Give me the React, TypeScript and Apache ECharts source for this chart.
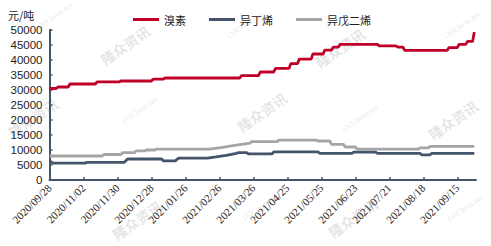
import React, { useEffect, useRef } from "react";
import * as echarts from "echarts";

const seriesNames = ["溴素", "异丁烯", "异戊二烯"];
const seriesColors = ["#C00028", "#44546A", "#A5A5A5"];
const tickLabels = [
  "2020/09/28", "2020/11/02", "2020/11/30", "2020/12/28", "2021/01/26",
  "2021/02/26", "2021/03/26", "2021/04/25", "2021/05/25", "2021/06/23",
  "2021/07/21", "2021/08/18", "2021/09/15",
];
const tickStep = 20;
const lastIndex = 251;
const yTicks = { min: 0, max: 50000, interval: 5000 };

// [trading-day index, price]
const bromine = [
  [0, 30500], [4, 30500], [5, 31000], [11, 31000], [12, 32000], [27, 32000],
  [28, 32700], [41, 32700], [42, 33000], [60, 33000], [61, 33600], [67, 33600],
  [68, 34000], [112, 34000], [113, 34800], [123, 34800], [124, 36000], [132, 36000],
  [133, 37200], [141, 37200], [142, 38800], [146, 38800], [147, 40300], [154, 40300],
  [155, 42000], [161, 42000], [162, 43300], [166, 43300], [167, 44300], [170, 44300],
  [171, 45200], [193, 45200], [194, 44700], [204, 44700], [205, 44300], [208, 44300],
  [209, 43200], [234, 43200], [235, 44100], [240, 44100], [241, 45200], [245, 45200],
  [246, 46200], [249, 46200], [250, 49300],
];
const isobutylene = [
  [0, 6100], [1, 6100], [2, 5600], [21, 5600], [22, 5900], [44, 5900],
  [46, 7000], [66, 7000], [67, 6400], [74, 6400], [76, 7300], [93, 7300],
  [98, 7700], [104, 8200], [110, 8900], [111, 9100], [116, 9100], [117, 8700],
  [131, 8700], [132, 9400], [158, 9400], [159, 8900], [178, 8900], [179, 9300],
  [192, 9300], [193, 8900], [218, 8900], [219, 8400], [224, 8400], [225, 8900],
  [250, 8900],
];
const isoprene = [
  [0, 8000], [31, 8000], [32, 8500], [42, 8500], [43, 9100], [50, 9100],
  [51, 9700], [56, 9700], [57, 10000], [62, 10000], [63, 10300], [94, 10300],
  [101, 10800], [107, 11400], [113, 11900], [118, 12300], [119, 12800], [134, 12800],
  [135, 13300], [157, 13300], [158, 13000], [165, 13000], [166, 11900], [173, 11900],
  [174, 11000], [180, 11000], [181, 10300], [217, 10300], [218, 10700], [223, 10700],
  [224, 11200], [250, 11200],
];
const seriesData = [bromine, isobutylene, isoprene];

const wmBrand = "隆众资讯";
const wmSite = "OilChem.net";
const wmBrandPos = [[125, 45], [340, 48], [33, 118], [262, 112], [453, 120], [137, 220], [353, 218]];
const wmSitePos = [[55, 16], [245, 25], [462, 25], [140, 110], [360, 118], [260, 207], [465, 208]];

export default function App() {
  const ref = useRef<HTMLDivElement>(null);
  useEffect(() => {
    const chart = echarts.init(ref.current!, null, { renderer: "svg" });
    const tickValues = tickLabels.map((_, i) => i * tickStep);
    const wm: any[] = [];
    wmBrandPos.forEach(([x, y]) =>
      wm.push({
        type: "text", x, y, rotation: 0.6, silent: true, z: 0,
        style: { text: wmBrand, fill: "rgba(160,160,160,0.28)", font: "bold 14px 'Noto Sans CJK SC'", align: "center", verticalAlign: "middle" },
      })
    );
    wmSitePos.forEach(([x, y]) =>
      wm.push({
        type: "text", x, y, rotation: 0.6, silent: true, z: 0,
        style: { text: wmSite, fill: "rgba(160,160,160,0.28)", font: "8px 'Liberation Serif'", align: "center", verticalAlign: "middle" },
      })
    );
    chart.setOption({
      animation: false,
      backgroundColor: "#fff",
      grid: { left: 49.5, right: 15, top: 30, bottom: 66 },
      legend: {
        top: 9,
        left: 128,
        icon: "rect",
        itemWidth: 26,
        itemHeight: 3,
        itemGap: 23,
        textStyle: { fontSize: 11, color: "#222", fontFamily: "'Noto Sans CJK SC'" },
        data: seriesNames,
      },
      graphic: [
        ...wm,
        {
          type: "text", left: 8, top: 9,
          style: { text: "元/吨", fill: "#222", font: "11px 'Noto Sans CJK SC'" },
        },
      ],
      xAxis: {
        type: "value",
        min: 0,
        max: lastIndex,
        interval: tickStep,
        splitLine: { show: false },
        axisLine: { show: true, lineStyle: { color: "#44546A", width: 2 } },
        axisTick: { show: true, inside: true, length: 3, customValues: tickValues, lineStyle: { color: "#44546A", width: 1.5 } },
        axisLabel: {
          customValues: tickValues,
          rotate: 45,
          margin: 6,
          fontSize: 11,
          color: "#222",
          fontFamily: "'Liberation Serif'",
          formatter: (v: number) => tickLabels[Math.round(v / tickStep)] ?? "",
        },
      },
      yAxis: {
        type: "value",
        min: yTicks.min,
        max: yTicks.max,
        interval: yTicks.interval,
        splitLine: { show: false },
        axisLine: { show: true, lineStyle: { color: "#44546A", width: 2 } },
        axisTick: { show: true, inside: true, length: 3, lineStyle: { color: "#44546A", width: 1.5 } },
        axisLabel: {
          fontSize: 11.5, color: "#222", margin: 7, fontFamily: "'Liberation Sans'",
          formatter: (v: number) => String(v),
        },
      },
      series: seriesNames.map((name, i) => ({
        name,
        type: "line",
        data: seriesData[i],
        showSymbol: false,
        symbol: "none",
        z: 3 - i + 2,
        color: seriesColors[i],
        lineStyle: { color: seriesColors[i], width: 2.8 },
      })),
    });
    return () => chart.dispose();
  }, []);
  return <div ref={ref} style={{ position: "fixed", left: 0, top: 0, width: 491, height: 246 }} />;
}
